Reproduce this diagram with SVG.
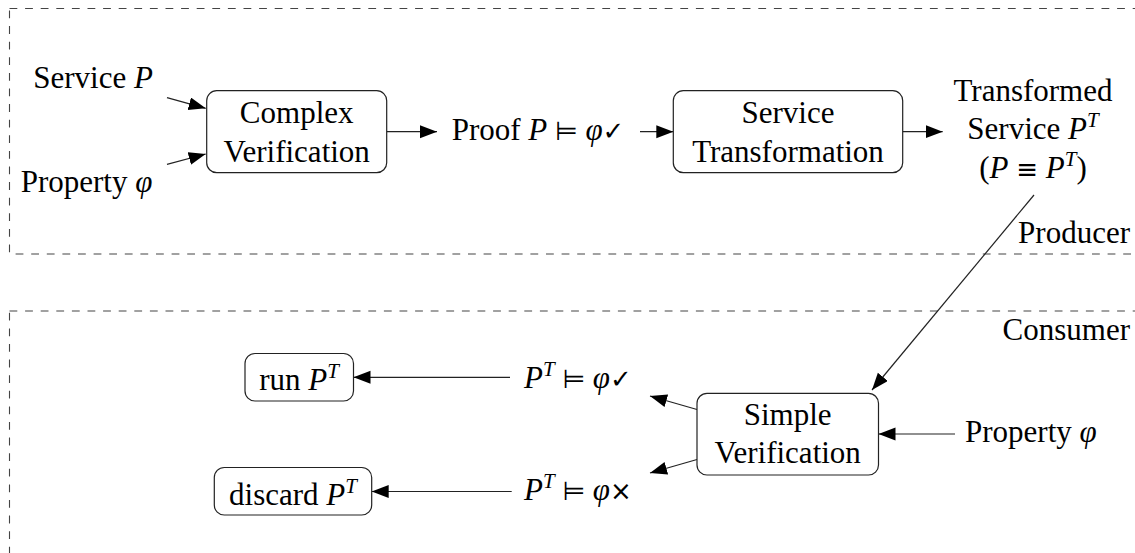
<svg xmlns="http://www.w3.org/2000/svg" width="1135" height="553" viewBox="0 0 1135 553" font-family="'Liberation Serif', 'DejaVu Serif', serif">
  <defs>
    <marker id="arrow" markerUnits="userSpaceOnUse" markerWidth="18" markerHeight="14" refX="17" refY="6.5" orient="auto">
      <path d="M0,0 L17,6.5 L0,13 Z" fill="#000"/>
    </marker>
    <style>
      text { font-family: 'Liberation Serif', 'DejaVu Serif', serif; font-size: 31px; fill: #000; }
      .m { font-style: italic; }
      .sup { font-style: italic; font-size: 21px; }
      .sym { font-family: 'DejaVu Sans', 'DejaVu Serif', sans-serif; font-size: 26px; }
      .box { fill: #fff; stroke: #222; stroke-width: 1.2; }
      .zone { fill: none; stroke: #444; stroke-width: 1.1; stroke-dasharray: 7.8 7.8; }
      .edge { fill: none; stroke: #222; stroke-width: 1.2; marker-end: url(#arrow); }
    </style>
  </defs>

  <!-- producer / consumer zones -->
  <g id="zones">
    <rect class="zone" x="9.5" y="8.5" width="1140" height="245.5"/>
    <rect class="zone" x="9.5" y="311" width="1140" height="300"/>
    <text x="1130" y="243" text-anchor="end">Producer</text>
    <text x="1130" y="340" text-anchor="end">Consumer</text>
  </g>

  <!-- connectors -->
  <g id="connectors">
    <line class="edge" x1="167" y1="97.7" x2="205.7" y2="108.3"/>
    <line class="edge" x1="167" y1="164.3" x2="205.7" y2="154"/>
    <line class="edge" x1="387" y1="131.7" x2="437" y2="131.7"/>
    <line class="edge" x1="640" y1="131.7" x2="673.3" y2="131.7"/>
    <line class="edge" x1="902.7" y1="131.7" x2="942.7" y2="131.7"/>
    <line class="edge" x1="1034" y1="195" x2="872" y2="390"/>
    <line class="edge" x1="955" y1="434" x2="878.5" y2="434"/>
    <line class="edge" x1="697" y1="409.5" x2="650" y2="396"/>
    <line class="edge" x1="697" y1="459.5" x2="650" y2="473"/>
    <line class="edge" x1="510" y1="377.3" x2="353.5" y2="377.3"/>
    <line class="edge" x1="511.7" y1="491.5" x2="371.7" y2="491.5"/>
  </g>

  <!-- inputs -->
  <g id="service-p">
    <text x="33.3" y="88">Service <tspan class="m">P</tspan></text>
  </g>
  <g id="property-top">
    <text x="20.7" y="192">Property <tspan class="m">φ</tspan></text>
  </g>

  <g id="complex-verification">
    <rect class="box" x="206.7" y="90.7" width="180" height="82" rx="10"/>
    <text x="296.7" y="123" text-anchor="middle">Complex</text>
    <text x="296.7" y="161.5" text-anchor="middle">Verification</text>
  </g>

  <g id="proof">
    <text x="538" y="140" text-anchor="middle">Proof <tspan class="m">P</tspan> <tspan class="sym">⊨</tspan> <tspan class="m">φ</tspan><tspan class="sym">✓</tspan></text>
  </g>

  <g id="service-transformation">
    <rect class="box" x="673.3" y="90.7" width="229.4" height="82" rx="10"/>
    <text x="788" y="123" text-anchor="middle">Service</text>
    <text x="788" y="161.5" text-anchor="middle">Transformation</text>
  </g>

  <g id="transformed-service">
    <text x="1033" y="100.7" text-anchor="middle">Transformed</text>
    <text x="1033" y="139.3" text-anchor="middle">Service <tspan class="m">P</tspan><tspan class="sup" dy="-12">T</tspan></text>
    <text x="1033" y="178.3" text-anchor="middle">(<tspan class="m">P</tspan> <tspan class="sym">≡</tspan> <tspan class="m">P</tspan><tspan class="sup" dy="-12">T</tspan><tspan dy="12">)</tspan></text>
  </g>

  <!-- consumer side -->
  <g id="simple-verification">
    <rect class="box" x="697" y="393.3" width="181.5" height="81.7" rx="10"/>
    <text x="787.7" y="425" text-anchor="middle">Simple</text>
    <text x="787.7" y="463" text-anchor="middle">Verification</text>
  </g>

  <g id="property-bottom">
    <text x="965" y="442">Property <tspan class="m">φ</tspan></text>
  </g>

  <g id="holds">
    <text x="524" y="388"><tspan class="m">P</tspan><tspan class="sup" dy="-12">T</tspan><tspan dy="12"> </tspan><tspan class="sym">⊨</tspan> <tspan class="m">φ</tspan><tspan class="sym">✓</tspan></text>
  </g>

  <g id="fails">
    <text x="524" y="500"><tspan class="m">P</tspan><tspan class="sup" dy="-12">T</tspan><tspan dy="12"> </tspan><tspan class="sym">⊨</tspan> <tspan class="m">φ</tspan><tspan class="sym">×</tspan></text>
  </g>

  <g id="run">
    <rect class="box" x="245" y="353.5" width="108.5" height="47.5" rx="10"/>
    <text x="299" y="390" text-anchor="middle">run <tspan class="m">P</tspan><tspan class="sup" dy="-12">T</tspan></text>
  </g>

  <g id="discard">
    <rect class="box" x="214.3" y="467.5" width="157.4" height="47.5" rx="10"/>
    <text x="293" y="505" text-anchor="middle">discard <tspan class="m">P</tspan><tspan class="sup" dy="-12">T</tspan></text>
  </g>
</svg>
